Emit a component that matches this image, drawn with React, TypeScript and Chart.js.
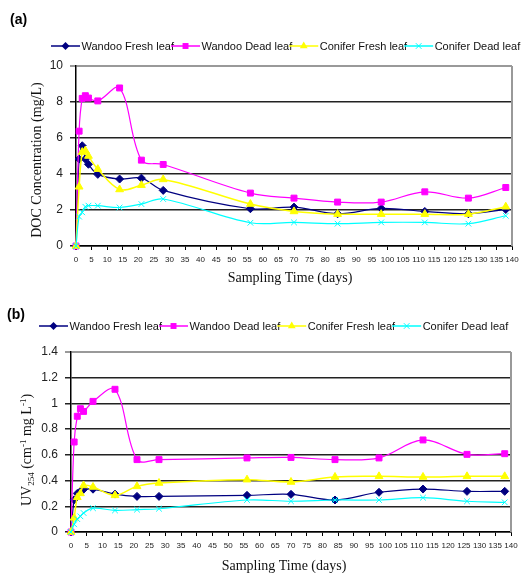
import React, { useEffect, useRef } from "react";
import { Chart, registerables } from "chart.js";

Chart.register(...registerables);

// ---------- data ----------
const DAYS = [0, 1, 2, 3, 4, 7, 14, 21, 28, 56, 70, 84, 98, 112, 126, 138];
const SERIES_NAMES = ["Wandoo Fresh leaf", "Wandoo Dead leaf", "Conifer Fresh leaf", "Conifer Dead leaf"];

const DOC_WANDOO_FRESH = [0, 4.83, 5.57, 4.83, 4.54, 3.98, 3.72, 3.77, 3.09, 2.07, 2.16, 1.79, 2.09, 1.92, 1.79, 2.03];
const DOC_WANDOO_DEAD = [0, 6.38, 8.2, 8.35, 8.22, 8.06, 8.78, 4.77, 4.53, 2.94, 2.66, 2.44, 2.44, 3.01, 2.66, 3.25];
const DOC_CONIFER_FRESH = [0, 3.29, 5.22, 5.3, 5.0, 4.27, 3.14, 3.38, 3.7, 2.33, 1.92, 1.77, 1.77, 1.77, 1.77, 2.18];
const DOC_CONIFER_DEAD = [0, 1.63, 1.87, 2.18, 2.24, 2.24, 2.14, 2.33, 2.61, 1.29, 1.31, 1.24, 1.31, 1.31, 1.24, 1.68];

const UV_WANDOO_FRESH = [0, 0.25, 0.3, 0.316, 0.332, 0.333, 0.295, 0.277, 0.277, 0.285, 0.293, 0.249, 0.309, 0.334, 0.316, 0.316];
const UV_WANDOO_DEAD = [0, 0.7, 0.9, 0.959, 0.938, 1.016, 1.11, 0.563, 0.563, 0.576, 0.58, 0.563, 0.576, 0.716, 0.604, 0.609];
const UV_CONIFER_FRESH = [0, 0.11, 0.27, 0.3, 0.362, 0.35, 0.285, 0.355, 0.381, 0.407, 0.389, 0.428, 0.433, 0.428, 0.433, 0.433];
const UV_CONIFER_DEAD = [0, 0.06, 0.1, 0.122, 0.148, 0.185, 0.168, 0.174, 0.181, 0.249, 0.239, 0.249, 0.249, 0.267, 0.239, 0.231];

const X_TICK_STEP = 5;
const X_MAX = 140;
const DOC_MAX = 10;
const DOC_STEP = 2;
const UV_MAX = 1.4;
const UV_STEP = 0.2;

// ---------- styles ----------
const COLORS = ["#000080", "#FF00FF", "#FFFF00", "#00FFFF"];
const STYLES = ["rectRot", "rect", "triangle", "crossRot"];
const RADII = [4, 4.2, 4.5, 4];
const SANS = "'Liberation Sans', Arial, sans-serif";
const SERIF = "'Liberation Serif', 'Times New Roman', serif";

function drawMarker(ctx: CanvasRenderingContext2D, style: string, x: number, y: number, r: number, color: string) {
  ctx.save();
  ctx.fillStyle = color;
  ctx.strokeStyle = color;
  ctx.lineWidth = 1;
  ctx.beginPath();
  if (style === "rectRot") {
    ctx.moveTo(x - r, y);
    ctx.lineTo(x, y - r);
    ctx.lineTo(x + r, y);
    ctx.lineTo(x, y + r);
    ctx.closePath();
    ctx.fill();
  } else if (style === "rect") {
    const s = Math.SQRT1_2 * r;
    ctx.rect(x - s, y - s, 2 * s, 2 * s);
    ctx.fill();
  } else if (style === "triangle") {
    const side = r * Math.sqrt(3);
    ctx.moveTo(x, y - r);
    ctx.lineTo(x + side / 2, y + r / 2);
    ctx.lineTo(x - side / 2, y + r / 2);
    ctx.closePath();
    ctx.fill();
  } else {
    const d = r * Math.SQRT1_2;
    ctx.moveTo(x - d, y - d);
    ctx.lineTo(x + d, y + d);
    ctx.moveTo(x + d, y - d);
    ctx.lineTo(x - d, y + d);
    ctx.stroke();
  }
  ctx.restore();
}

const decorPlugin = {
  id: "decor",
  afterDraw(chart: any, _args: any, opts: any) {
    const ctx: CanvasRenderingContext2D = chart.ctx;
    const { right, top, bottom } = chart.chartArea;
    ctx.save();
    // right border
    ctx.strokeStyle = "#999";
    ctx.lineWidth = 2;
    ctx.beginPath();
    ctx.moveTo(right, top);
    ctx.lineTo(right, bottom);
    ctx.stroke();

    // panel label
    ctx.fillStyle = "#000";
    ctx.font = `bold 14px ${SANS}`;
    ctx.textAlign = "left";
    ctx.textBaseline = "alphabetic";
    ctx.fillText(opts.panel, opts.panelX, opts.panelY);

    // legend
    ctx.font = `11px ${SANS}`;
    ctx.textBaseline = "middle";
    let x = opts.legendX;
    const ly = opts.legendY;
    SERIES_NAMES.forEach((name, i) => {
      ctx.strokeStyle = COLORS[i];
      ctx.lineWidth = 1.5;
      ctx.beginPath();
      ctx.moveTo(x, ly);
      ctx.lineTo(x + 29, ly);
      ctx.stroke();
      drawMarker(ctx, STYLES[i], x + 14.5, ly, RADII[i], COLORS[i]);
      ctx.fillStyle = "#111";
      const tx = x + 30.5;
      ctx.fillText(name, tx, ly + 0.5);
      x = tx + ctx.measureText(name).width - 3;
    });

    // x title
    ctx.fillStyle = "#111";
    ctx.font = `14px ${SERIF}`;
    ctx.textAlign = "center";
    ctx.textBaseline = "alphabetic";
    ctx.fillText(opts.xTitle, opts.xTitleX, opts.xTitleY);

    // y title (rotated, with segments for sub/superscripts)
    ctx.translate(opts.yTitleX, opts.yTitleY);
    ctx.rotate(-Math.PI / 2);
    ctx.textAlign = "left";
    const segs: [string, number, number][] = opts.yTitleSegs;
    let total = 0;
    segs.forEach(([t, size]) => {
      ctx.font = `${size}px ${SERIF}`;
      total += ctx.measureText(t).width;
    });
    let sx = -total / 2;
    segs.forEach(([t, size, dy]) => {
      ctx.font = `${size}px ${SERIF}`;
      ctx.fillText(t, sx, dy);
      sx += ctx.measureText(t).width;
    });
    ctx.restore();
  },
};

type PanelSpec = {
  width: number;
  height: number;
  values: number[][];
  yMax: number;
  yStep: number;
  padTop: number;
  padRight: number;
  yWidth: number;
  xHeight: number;
  decor: any;
};

function makeConfig(p: PanelSpec): any {
  const datasets = p.values.map((vals, i) => ({
    label: SERIES_NAMES[i],
    data: DAYS.map((d, j) => ({ x: d, y: vals[j] })),
    borderColor: COLORS[i],
    backgroundColor: COLORS[i],
    borderWidth: i === 2 ? 1.5 : 1.2,
    pointStyle: STYLES[i],
    pointRadius: RADII[i],
    pointBorderWidth: 1,
    pointBackgroundColor: COLORS[i],
    pointBorderColor: COLORS[i],
    tension: 0.35,
    clip: false,
    order: 3 - i,
  }));
  return {
    type: "line",
    data: { datasets },
    plugins: [decorPlugin],
    options: {
      responsive: false,
      animation: false,
      events: [],
      layout: { padding: { top: p.padTop, right: p.padRight, left: 0, bottom: 0 } },
      plugins: {
        legend: { display: false },
        tooltip: { enabled: false },
        decor: p.decor,
      },
      scales: {
        x: {
          type: "linear",
          min: 0,
          max: X_MAX,
          afterFit: (s: any) => {
            s.height = p.xHeight;
          },
          ticks: {
            stepSize: X_TICK_STEP,
            autoSkip: false,
            maxRotation: 0,
            minRotation: 0,
            padding: 5,
            color: "#222",
            font: { size: 8, family: SANS },
          },
          grid: {
            drawOnChartArea: false,
            drawTicks: true,
            tickLength: 4,
            color: "#000",
            lineWidth: 1,
          },
          border: { color: "#000", width: 1.5 },
        },
        y: {
          type: "linear",
          min: 0,
          max: p.yMax,
          afterFit: (s: any) => {
            s.width = p.yWidth;
          },
          ticks: {
            stepSize: p.yStep,
            padding: 7,
            color: "#222",
            font: { size: 12, family: SANS },
            callback: (v: number) => String(Math.round(v * 10) / 10),
          },
          grid: {
            color: (c: any) => (c.tick && Math.abs(c.tick.value - p.yMax) < 1e-9 ? "#999" : "#222"),
            lineWidth: (c: any) => (c.tick && Math.abs(c.tick.value - p.yMax) < 1e-9 ? 2 : 1.5),
            tickLength: 6,
            drawTicks: true,
          },
          border: { color: "#000", width: 1.5 },
        },
      },
    },
  };
}

const PANEL_A: PanelSpec = {
  width: 524,
  height: 290,
  values: [DOC_WANDOO_FRESH, DOC_WANDOO_DEAD, DOC_CONIFER_FRESH, DOC_CONIFER_DEAD],
  yMax: DOC_MAX,
  yStep: DOC_STEP,
  padTop: 66,
  padRight: 12,
  yWidth: 76,
  xHeight: 44,
  decor: {
    panel: "(a)",
    panelX: 10,
    panelY: 24,
    legendX: 51,
    legendY: 46,
    xTitle: "Sampling Time (days)",
    xTitleX: 290,
    xTitleY: 282,
    yTitleX: 41,
    yTitleY: 160,
    yTitleSegs: [["DOC Concentration (mg/L)", 14, 0]],
  },
};

const PANEL_B: PanelSpec = {
  width: 524,
  height: 283,
  values: [UV_WANDOO_FRESH, UV_WANDOO_DEAD, UV_CONIFER_FRESH, UV_CONIFER_DEAD],
  yMax: UV_MAX,
  yStep: UV_STEP,
  padTop: 62,
  padRight: 13,
  yWidth: 71,
  xHeight: 41,
  decor: {
    panel: "(b)",
    panelX: 7,
    panelY: 29,
    legendX: 39,
    legendY: 36,
    xTitle: "Sampling Time (days)",
    xTitleX: 284,
    xTitleY: 280,
    yTitleX: 31,
    yTitleY: 160,
    yTitleSegs: [
      ["UV", 14, 0],
      ["254", 9, 3],
      [" (cm", 14, 0],
      ["-1", 9, -5],
      [" mg L", 14, 0],
      ["-1", 9, -5],
      [")", 14, 0],
    ],
  },
};

function Panel({ spec, top }: { spec: PanelSpec; top: number }) {
  const ref = useRef<HTMLCanvasElement | null>(null);
  useEffect(() => {
    if (!ref.current) return;
    const chart = new Chart(ref.current, makeConfig(spec));
    return () => chart.destroy();
  }, [spec]);
  return (
    <canvas
      ref={ref}
      width={spec.width}
      height={spec.height}
      style={{ position: "absolute", left: 0, top, width: spec.width, height: spec.height }}
    />
  );
}

export default function App() {
  return (
    <div
      style={{
        position: "fixed",
        left: 0,
        top: 0,
        width: 524,
        height: 573,
        background: "#fff",
        overflow: "hidden",
      }}
    >
      <Panel spec={PANEL_A} top={0} />
      <Panel spec={PANEL_B} top={290} />
    </div>
  );
}
